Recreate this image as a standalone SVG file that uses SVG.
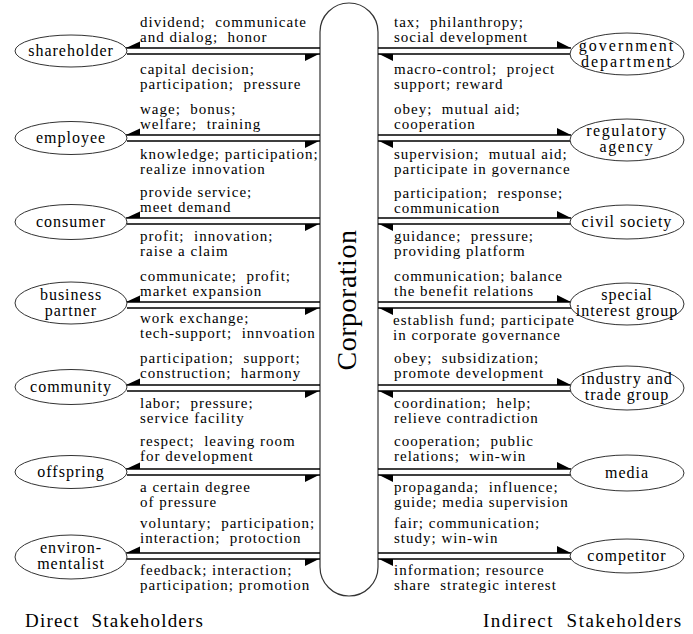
<svg xmlns="http://www.w3.org/2000/svg" xmlns:xlink="http://www.w3.org/1999/xlink" width="693" height="634" viewBox="0 0 693 634">
<style>
.t{font-family:"Liberation Serif","Times New Roman",serif;font-size:15px;letter-spacing:1px;fill:#000;white-space:pre}
.n{text-anchor:middle;font-size:16px;letter-spacing:1px}
.big{letter-spacing:2px}
.mid{letter-spacing:1.6px}
.e{fill:#fff;stroke:#333;stroke-width:1}
.ln{stroke:#000;stroke-width:1.3;fill:none}
.ah{fill:#000}
.ttl{font-family:"Liberation Serif","Times New Roman",serif;font-size:19px;letter-spacing:1.2px;fill:#000;white-space:pre}
</style>
<defs>
<path id="aLU" class="ah" d="M0,0 L14,-6.5 L14,0 Z"/>
<path id="aLL" class="ah" d="M0,0 L-14,0 L-14,7 Z"/>
<path id="aRU" class="ah" d="M0,0 L-14,-7 L-14,0 Z"/>
<path id="aRL" class="ah" d="M0,0 L14,0 L14,7 Z"/>
</defs>
<rect width="693" height="634" fill="#fff"/>

<g id="corporation">
<rect x="320" y="3" width="58" height="593" rx="29" ry="29" fill="#fff" stroke="#333" stroke-width="1.2"/>
<text class="t" x="356" y="300" text-anchor="middle" transform="rotate(-90 356 300)" style="font-size:28px;letter-spacing:0.5px">Corporation</text>
</g>

<g id="connectors">
<path class="ln" d="M126,48H320M127,54H320M126,135H320M127,141H320M126,218H320M127,224H320M126,302H320M127,308H320M126,385H320M127,391H320M126,469H320M127,475H320M126,553H320M127,559H320"/>
<use xlink:href="#aLU" x="126" y="48"/><use xlink:href="#aLL" x="319" y="54"/>
<use xlink:href="#aLU" x="126" y="135"/><use xlink:href="#aLL" x="319" y="141"/>
<use xlink:href="#aLU" x="126" y="218"/><use xlink:href="#aLL" x="319" y="224"/>
<use xlink:href="#aLU" x="126" y="302"/><use xlink:href="#aLL" x="319" y="308"/>
<use xlink:href="#aLU" x="126" y="385"/><use xlink:href="#aLL" x="319" y="391"/>
<use xlink:href="#aLU" x="126" y="469"/><use xlink:href="#aLL" x="319" y="475"/>
<use xlink:href="#aLU" x="126" y="553"/><use xlink:href="#aLL" x="319" y="559"/>
<path class="ln" d="M378,48H571M378,54H572M378,135H571M378,141H572M378,218H571M378,224H572M378,302H571M378,308H572M378,385H571M378,391H572M378,469H571M378,475H572M378,553H571M378,559H572"/>
<use xlink:href="#aRU" x="571" y="48"/><use xlink:href="#aRL" x="379" y="54"/>
<use xlink:href="#aRU" x="571" y="135"/><use xlink:href="#aRL" x="379" y="141"/>
<use xlink:href="#aRU" x="571" y="218"/><use xlink:href="#aRL" x="379" y="224"/>
<use xlink:href="#aRU" x="571" y="302"/><use xlink:href="#aRL" x="379" y="308"/>
<use xlink:href="#aRU" x="571" y="385"/><use xlink:href="#aRL" x="379" y="391"/>
<use xlink:href="#aRU" x="571" y="469"/><use xlink:href="#aRL" x="379" y="475"/>
<use xlink:href="#aRU" x="571" y="553"/><use xlink:href="#aRL" x="379" y="559"/>
</g>

<g id="labels-left">
<text class="t" x="140" y="27">dividend;  communicate</text>
<text class="t" x="140" y="42">and dialog;  honor</text>
<text class="t" x="140" y="74">capital decision;</text>
<text class="t" x="140" y="89">participation;  pressure</text>
<text class="t" x="140" y="114">wage;  bonus;</text>
<text class="t" x="140" y="129">welfare;  training</text>
<text class="t" x="140" y="159">knowledge; participation;</text>
<text class="t" x="140" y="174">realize innovation</text>
<text class="t" x="140" y="197">provide service;</text>
<text class="t" x="140" y="212">meet demand</text>
<text class="t" x="140" y="241">profit;  innovation;</text>
<text class="t" x="140" y="256">raise a claim</text>
<text class="t" x="140" y="281">communicate;  profit;</text>
<text class="t" x="140" y="296">market expansion</text>
<text class="t" x="140" y="323">work exchange;</text>
<text class="t" x="140" y="338">tech-support;  innvoation</text>
<text class="t" x="140" y="363">participation;  support;</text>
<text class="t" x="140" y="378">construction;  harmony</text>
<text class="t" x="140" y="408">labor;  pressure;</text>
<text class="t" x="140" y="423">service facility</text>
<text class="t" x="140" y="446">respect;  leaving room</text>
<text class="t" x="140" y="461">for development</text>
<text class="t" x="140" y="492">a certain degree</text>
<text class="t" x="140" y="507">of pressure</text>
<text class="t" x="140" y="528">voluntary;  participation;</text>
<text class="t" x="140" y="543">interaction;  protoction</text>
<text class="t" x="140" y="575">feedback; interaction;</text>
<text class="t" x="140" y="590">participation; promotion</text>
</g>

<g id="labels-right">
<text class="t" x="394" y="27">tax;  philanthropy;</text>
<text class="t" x="394" y="42">social development</text>
<text class="t" x="394" y="74">macro-control;  project</text>
<text class="t" x="394" y="89">support; reward</text>
<text class="t" x="394" y="114">obey;  mutual aid;</text>
<text class="t" x="394" y="129">cooperation</text>
<text class="t" x="394" y="159">supervision;  mutual aid;</text>
<text class="t" x="394" y="174">participate in governance</text>
<text class="t" x="394" y="198">participation;  response;</text>
<text class="t" x="394" y="213">communication</text>
<text class="t" x="394" y="241">guidance;  pressure;</text>
<text class="t" x="394" y="256">providing platform</text>
<text class="t" x="394" y="281">communication; balance</text>
<text class="t" x="394" y="296">the benefit relations</text>
<text class="t" x="393" y="325">establish fund; participate</text>
<text class="t" x="393" y="340">in corporate governance</text>
<text class="t" x="394" y="363">obey;  subsidization;</text>
<text class="t" x="394" y="378">promote development</text>
<text class="t" x="394" y="408">coordination;  help;</text>
<text class="t" x="394" y="423">relieve contradiction</text>
<text class="t" x="394" y="446">cooperation;  public</text>
<text class="t" x="394" y="461">relations;  win-win</text>
<text class="t" x="394" y="492">propaganda;  influence;</text>
<text class="t" x="394" y="507">guide; media supervision</text>
<text class="t" x="394" y="528">fair; communication;</text>
<text class="t" x="394" y="543">study; win-win</text>
<text class="t" x="394" y="575">information; resource</text>
<text class="t" x="394" y="590">share  strategic interest</text>
</g>

<g id="shareholder"><ellipse class="e" cx="71" cy="51" rx="56" ry="16"/><text class="t n" x="71" y="56">shareholder</text></g>
<g id="employee"><ellipse class="e" cx="71" cy="138" rx="56" ry="16.5"/><text class="t n" x="71" y="143">employee</text></g>
<g id="consumer"><ellipse class="e" cx="71" cy="222" rx="56" ry="17.5"/><text class="t n" x="71" y="227">consumer</text></g>
<g id="business-partner"><ellipse class="e" cx="71" cy="303" rx="56" ry="21"/><text class="t n" x="71" y="300">business</text><text class="t n" x="71" y="316">partner</text></g>
<g id="community"><ellipse class="e" cx="71" cy="387" rx="56" ry="17.5"/><text class="t n" x="71" y="392">community</text></g>
<g id="offspring"><ellipse class="e" cx="71" cy="472" rx="56" ry="16.5"/><text class="t n" x="71" y="477">offspring</text></g>
<g id="environmentalist"><ellipse class="e" cx="71" cy="557" rx="56" ry="22"/><text class="t n" x="71" y="553">environ-</text><text class="t n" x="71" y="569">mentalist</text></g>

<g id="government-department"><ellipse class="e" cx="627" cy="54" rx="57" ry="21"/><text class="t n big" x="627" y="51">government</text><text class="t n big" x="627" y="67">department</text></g>
<g id="regulatory-agency"><ellipse class="e" cx="627" cy="140" rx="57" ry="21"/><text class="t n mid" x="627" y="136">regulatory</text><text class="t n mid" x="627" y="152">agency</text></g>
<g id="civil-society"><ellipse class="e" cx="627" cy="222" rx="57" ry="17"/><text class="t n" x="627" y="227">civil society</text></g>
<g id="special-interest-group"><ellipse class="e" cx="627" cy="304" rx="57" ry="21"/><text class="t n" x="627" y="300">special</text><text class="t n" x="627" y="316">interest group</text></g>
<g id="industry-and-trade-group"><ellipse class="e" cx="627" cy="388" rx="57" ry="22"/><text class="t n" x="627" y="384">industry and</text><text class="t n" x="627" y="400">trade group</text></g>
<g id="media"><ellipse class="e" cx="627" cy="473" rx="57" ry="18"/><text class="t n" x="627" y="478">media</text></g>
<g id="competitor"><ellipse class="e" cx="627" cy="556" rx="57" ry="17"/><text class="t n" x="627" y="561">competitor</text></g>

<g id="titles">
<text class="ttl" x="25" y="627">Direct  Stakeholders</text>
<text class="ttl" x="483" y="627" style="letter-spacing:1.5px">Indirect  Stakeholders</text>
</g>
</svg>
